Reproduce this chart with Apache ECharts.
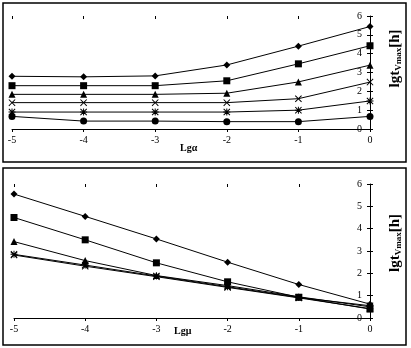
<!DOCTYPE html>
<html><head><meta charset="utf-8">
<script src="https://cdn.jsdelivr.net/npm/echarts@6/dist/echarts.min.js"></script>
<style>html,body{margin:0;padding:0;background:#fff}#c{width:411px;height:348px}</style>
</head><body><div id="c"></div>
<script>
const xValues = [-5, -4, -3, -2, -1, 0];
const yTicks = [0, 1, 2, 3, 4, 5, 6];
// top panel (Lgα)
const topDiamond  = [2.8, 2.77, 2.82, 3.4, 4.4, 5.44];
const topSquare   = [2.3, 2.3, 2.3, 2.56, 3.46, 4.42];
const topTriangle = [1.84, 1.84, 1.84, 1.9, 2.5, 3.39];
const topCross    = [1.4, 1.4, 1.4, 1.4, 1.61, 2.49];
const topStar     = [0.9, 0.9, 0.9, 0.9, 1.0, 1.49];
const topCircle   = [0.67, 0.42, 0.42, 0.39, 0.39, 0.67];
// bottom panel (Lgμ)
const botDiamond  = [5.55, 4.55, 3.54, 2.5, 1.5, 0.62];
const botSquare   = [4.5, 3.5, 2.47, 1.62, 0.93, 0.4];
const botTriangle = [3.42, 2.57, 1.9, 1.45, 0.95, 0.5];
const botCross    = [2.82, 2.32, 1.85, 1.37, 0.9, 0.42];
const botStar     = [2.85, 2.37, 1.88, 1.4, 0.92, 0.55];

const xSym = 'path://M0,1L1,0L5,4L9,0L10,1L6,5L10,9L9,10L5,6L1,10L0,9L4,5Z';
const starSym = 'path://M0,1L1,0L5,4L9,0L10,1L6,5L10,9L9,10L5,6L1,10L0,9L4,5Z M0,4.3L10,4.3L10,5.7L0,5.7Z M4.3,0L5.7,0L5.7,10L4.3,10Z';

const font = 'Liberation Serif';
function pairs(arr){ return xValues.map((x,i)=>[x,arr[i]]); }
function ser(arr, sym, size, g){
  return {type:'line', xAxisIndex:g, yAxisIndex:g, data:pairs(arr), symbol:sym, symbolSize:size,
    showAllSymbol:true, lineStyle:{color:'#000', width:1}, itemStyle:{color:'#000'}, silent:true, animation:false, z:5};
}
const nameRich = {
  a:{fontFamily:font, fontSize:15, fontWeight:'bold', color:'#000'},
  s:{fontFamily:font, fontSize:9, fontWeight:'bold', color:'#000', padding:[6,0,0,0]}
};
function xAx(g, show){
  return {type:'value', gridIndex:g, min:-5, max:0, interval:1,
    axisLine:{show:show, onZero:false, lineStyle:{color:'#000', width:1}},
    axisTick:{show:true, inside:!show, length:3, lineStyle:{color:'#000'}},
    axisLabel:{show:show, color:'#000', fontFamily:font, fontSize:10, margin:6,
      formatter: v => String(v)},
    splitLine:{show:false}};
}
function yAx(g, show, shift){
  return {type:'value', gridIndex:g, min:0, max:6, interval:1, position:'right',
    axisLine:{show:show, lineStyle:{color:'#000', width:1}},
    axisTick:{show:true, inside:!show, length:3, lineStyle:{color:'#000'}},
    axisLabel:{show:show, inside:true, color:'#000', fontFamily:font, fontSize:10, margin:8},
    splitLine:{show:false},
    name: show ? '{a|lgt}{s|Vmax}{a|[h]}' : '', nameLocation:'middle', nameGap:18,
    nameTextStyle:{rich:nameRich, padding:[0,0,0,shift||0]}};
}
const chart = echarts.init(document.getElementById('c'), null, {renderer:'canvas'});
chart.setOption({
  animation:false,
  backgroundColor:'#fff',
  grid:[
    {left:12, right:36, top:16, bottom:219},
    {left:14, right:33, top:184, bottom:30}
  ],
  xAxis:[xAx(0,true), xAx(1,true), xAx(0,false), xAx(1,false)],
  yAxis:[yAx(0,true,28), yAx(1,true,16), yAx(0,false), yAx(1,false)],
  graphic:[
    {type:'rect', shape:{x:3, y:3, width:403, height:159}, style:{fill:'none', stroke:'#000', lineWidth:1.5}, silent:true},
    {type:'rect', shape:{x:3, y:168, width:403, height:177}, style:{fill:'none', stroke:'#000', lineWidth:1.5}, silent:true},
    {type:'text', left:180, top:143, style:{text:'Lgα', fontFamily:font, fontSize:10, fontWeight:'bold', fill:'#000'}},
    {type:'text', left:174, top:326, style:{text:'Lgμ', fontFamily:font, fontSize:10, fontWeight:'bold', fill:'#000'}}
  ],
  series:[
    ser(topDiamond,'diamond',7,0),
    ser(topSquare,'rect',7,0),
    ser(topTriangle,'triangle',7,0),
    ser(topCross,xSym,7,0),
    ser(topStar,starSym,7,0),
    ser(topCircle,'circle',7,0),
    ser(botDiamond,'diamond',7,1),
    ser(botSquare,'rect',7,1),
    ser(botTriangle,'triangle',7,1),
    ser(botCross,xSym,7,1),
    ser(botStar,starSym,7,1)
  ]
});
</script></body></html>
